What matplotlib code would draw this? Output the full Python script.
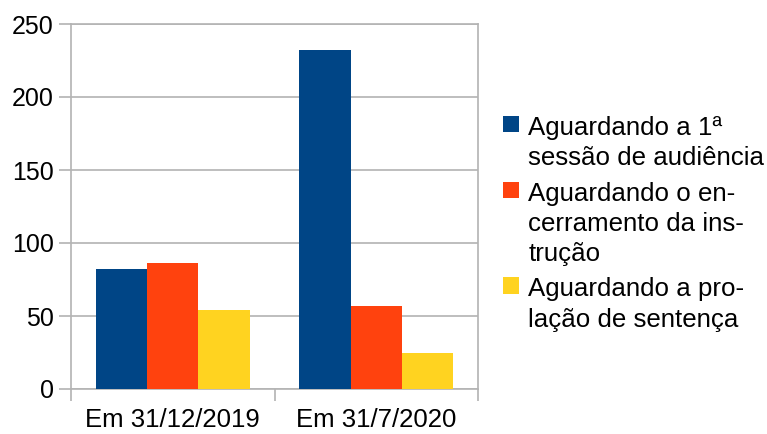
import matplotlib
matplotlib.use("Agg")
import matplotlib.pyplot as plt
import numpy as np

categories = ["Em 31/12/2019", "Em 31/7/2020"]
series_labels = [
    "Aguardando a 1ª\nsessão de audiência",
    "Aguardando o en-\ncerramento da ins-\ntrução",
    "Aguardando a pro-\nlação de sentença",
]
values_s1 = [82, 232]
values_s2 = [86, 57]
values_s3 = [54, 25]
colors = ["#004586", "#ff420e", "#ffd320"]
yticks = [0, 50, 100, 150, 200, 250]

plt.rcParams["font.family"] = ["Liberation Sans", "DejaVu Sans"]
FS = 18

fig = plt.figure(figsize=(7.67, 4.34), dpi=100)
ax = fig.add_axes([71 / 767, 1 - 389 / 434, (478 - 71) / 767, (389 - 24) / 434])

x = np.arange(len(categories))
w = 0.252
series = [values_s1, values_s2, values_s3]
handles = []
for i, (vals, lab, c) in enumerate(zip(series, series_labels, colors)):
    b = ax.bar(x + (i - 1) * w, vals, width=w, color=c, label=lab, zorder=3)
    handles.append(b)

ax.set_xlim(-0.5, len(categories) - 0.5)
ax.set_ylim(0, 250)
ax.set_yticks(yticks)
ax.set_yticklabels([str(t) for t in yticks])
ax.yaxis.grid(True, color="#b3b3b3", linewidth=1.2, zorder=0)
ax.set_axisbelow(True)

ax.set_xticks(np.arange(len(categories) + 1) - 0.5)
ax.set_xticklabels([])
ax.set_xticks(x, minor=True)
ax.set_xticklabels(categories, minor=True)
ax.tick_params(axis="x", which="major", length=8.5, color="#b3b3b3", width=1.2)
ax.tick_params(axis="x", which="minor", length=0, pad=14, labelsize=18.5)
ax.tick_params(axis="y", length=8.5, color="#b3b3b3", width=1.2, pad=4, labelsize=FS)

for s in ax.spines.values():
    s.set_color("#b3b3b3")
    s.set_linewidth(1.2)

leg = fig.legend(
    handles=handles,
    loc="upper left",
    bbox_to_anchor=(503 / 767, 1 - 116 / 434),
    frameon=False,
    fontsize=18.6,
    handlelength=0.6,
    handleheight=0.6,
    handletextpad=0.38,
    labelspacing=0.45,
    borderpad=0,
    borderaxespad=0,
)
for t in leg.get_texts():
    t.set_linespacing(1.32)
try:
    for col in leg._legend_handle_box.get_children():
        for item in col.get_children():
            item.align = "top"
except Exception:
    pass

fig.savefig("out.png", dpi=100)
